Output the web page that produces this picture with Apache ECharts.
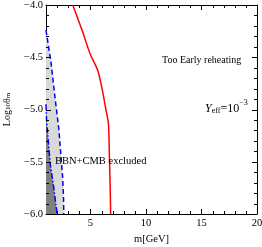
<!DOCTYPE html>
<html><head><meta charset="utf-8">
<script src="https://cdn.jsdelivr.net/npm/echarts@6/dist/echarts.min.js"></script>
<style>html,body{margin:0;padding:0;background:#fff}#c{width:262px;height:247px}</style>
</head><body><div id="c"></div>
<script>
// Red curve (m [GeV], log10 theta_m)
const redM   = [3.41, 4.36, 4.97, 5.66, 6.02, 6.41, 6.62, 6.71, 6.78, 6.82];
const redLog = [-4.0, -4.275, -4.467, -4.626, -4.786, -5.009, -5.133, -5.45, -5.75, -6.0];
// Right blue dashed boundary
const dashRM   = [1.0, 1.45, 1.84, 2.15, 2.35, 2.5, 2.58, 2.6];
const dashRLog = [-4.24, -4.55, -4.91, -5.18, -5.45, -5.65, -5.85, -6.0];
// Left blue dash-dot boundary
const dashLM   = [1.0, 1.05, 1.2, 1.39, 1.7, 2.0];
const dashLLog = [-4.95, -5.1, -5.3, -5.53, -5.75, -6.0];
// Ticks
const xMajorTicks = [5, 10, 15, 20];
const xMinorTicks = [2, 3, 4, 6, 7, 8, 9, 11, 12, 13, 14, 16, 17, 18, 19];
const yMajorTicks = [-6.0, -5.5, -5.0, -4.5, -4.0];
const yMinorTicks = [-5.9, -5.8, -5.7, -5.6, -5.4, -5.3, -5.2, -5.1, -4.9, -4.8, -4.7, -4.6, -4.4, -4.3, -4.2, -4.1];
const yMin = -6, yMax = -4, yStep = 0.5;
const xMin = 1, xMax = 20;

const pair = (a, b) => a.map((v, i) => [v, b[i]]);
const redData = pair(redM, redLog);
const dashR = pair(dashRM, dashRLog);
const dashL = pair(dashLM, dashLLog);
const lightPoly = dashR.concat([[xMin, yMin]]);
const darkPoly = dashL.concat([[xMin, yMin]]);

const serif = 'Liberation Serif';
function polySeries(poly, color, z) {
  return {
    type: 'custom', xAxisIndex: 0, yAxisIndex: 0, z: z, clip: true, silent: true,
    data: poly,
    encode: {x: 0, y: 1},
    renderItem: function (params, api) {
      if (params.dataIndex !== 0) return null;
      const pts = poly.map(p => api.coord(p));
      return {type: 'polygon', shape: {points: pts}, style: {fill: color, stroke: null}};
    }
  };
}
// Tick marks on all four frame sides, positioned through the axis scales
const tickItems = []
  .concat(xMajorTicks.map(v => ({x: v, y: yMin, dir: 0, len: 5})))
  .concat(xMinorTicks.map(v => ({x: v, y: yMin, dir: 0, len: 3})))
  .concat(yMajorTicks.map(v => ({x: xMin, y: v, dir: 1, len: 5})))
  .concat(yMinorTicks.map(v => ({x: xMin, y: v, dir: 1, len: 3})));
const tickSeries = {
  type: 'custom', xAxisIndex: 0, yAxisIndex: 0, z: 6, clip: false, silent: true,
  data: tickItems.map(t => [t.x, t.y]),
  encode: {x: 0, y: 1},
  renderItem: function (params, api) {
    const t = tickItems[params.dataIndex];
    const st = {stroke: '#000', lineWidth: 1, fill: null};
    if (t.dir === 0) {
      const b = api.coord([t.x, yMin]), tp = api.coord([t.x, yMax]);
      const x = Math.round(b[0]) + 0.5;
      return {type: 'group', children: [
        {type: 'line', shape: {x1: x, y1: b[1], x2: x, y2: b[1] - t.len}, style: st},
        {type: 'line', shape: {x1: x, y1: tp[1], x2: x, y2: tp[1] + t.len}, style: st}
      ]};
    } else {
      const l = api.coord([xMin, t.y]), r = api.coord([xMax, t.y]);
      const y = Math.round(l[1]) + 0.5;
      return {type: 'group', children: [
        {type: 'line', shape: {x1: l[0], y1: y, x2: l[0] + t.len, y2: y}, style: st},
        {type: 'line', shape: {x1: r[0], y1: y, x2: r[0] - t.len, y2: y}, style: st}
      ]};
    }
  }
};
const axLine = {show: true, onZero: false, lineStyle: {color: '#000', width: 1}};
const chart = echarts.init(document.getElementById('c'), null, {renderer: 'canvas'});
chart.setOption({
  animation: false,
  backgroundColor: '#fff',
  grid: {left: 46, top: 5, right: 5, bottom: 33, containLabel: false, outerBoundsMode: 'none'},
  xAxis: [
    {type: 'value', min: xMin, max: xMax, position: 'bottom', axisLine: axLine,
     axisTick: {show: false},
     axisLabel: {customValues: xMajorTicks, fontFamily: serif, fontSize: 10.5, color: '#000', margin: 4},
     splitLine: {show: false},
     name: 'm[GeV]', nameLocation: 'middle', nameGap: 20,
     nameTextStyle: {fontFamily: serif, fontSize: 10.5, color: '#000'}},
    {type: 'value', min: xMin, max: xMax, position: 'top', axisLine: axLine,
     axisTick: {show: false}, axisLabel: {show: false}, splitLine: {show: false}}
  ],
  yAxis: [
    {type: 'value', min: yMin, max: yMax, interval: yStep, position: 'left', axisLine: axLine,
     axisTick: {show: false},
     axisLabel: {fontFamily: serif, fontSize: 10.5, color: '#000', margin: 3,
                 formatter: v => v.toFixed(1).replace('-', '\u2212')},
     splitLine: {show: false},
     name: '{a|Log}{s|10}{a|\u03b8}{s|m}', nameLocation: 'middle', nameGap: 34, nameRotate: 90,
     nameTextStyle: {fontFamily: serif, fontSize: 10, color: '#000',
       rich: {a: {fontFamily: serif, fontSize: 10, color: '#000', verticalAlign: 'bottom', lineHeight: 14},
              s: {fontFamily: serif, fontSize: 7, color: '#000', verticalAlign: 'bottom', lineHeight: 10}}}},
    {type: 'value', min: yMin, max: yMax, interval: yStep, position: 'right', axisLine: axLine,
     axisTick: {show: false}, axisLabel: {show: false}, splitLine: {show: false}}
  ],
  series: [
    polySeries(lightPoly, '#d9d9d9', 1),
    polySeries(darkPoly, '#808080', 2),
    {type: 'line', xAxisIndex: 0, yAxisIndex: 0, data: dashR, showSymbol: false, z: 3,
     lineStyle: {color: '#0000ff', width: 1.5, type: [5, 3]}},
    {type: 'line', xAxisIndex: 0, yAxisIndex: 0, data: dashL, showSymbol: false, z: 3,
     lineStyle: {color: '#0000ff', width: 1.5, type: [6, 2, 1.5, 2]}},
    {type: 'line', xAxisIndex: 0, yAxisIndex: 0, data: redData, showSymbol: false, z: 4, smooth: 0.3,
     lineStyle: {color: '#ff0000', width: 1.5}},
    tickSeries
  ],
  graphic: [
    {type: 'text', left: 162, top: 55, z: 10,
     style: {text: 'Too Early reheating', fontFamily: serif, fontSize: 10, fill: '#000'}},
    {type: 'text', left: 55, top: 156, z: 10,
     style: {text: 'BBN+CMB excluded', fontFamily: serif, fontSize: 10.5, fill: '#000'}},
    {type: 'text', left: 205, top: 99, z: 10,
     style: {text: '{i|Y}{s|eff}{n|=10}{p|\u22123}', fill: '#000',
       rich: {i: {fontFamily: serif, fontStyle: 'italic', fontSize: 12, fill: '#000', verticalAlign: 'bottom', lineHeight: 16},
              s: {fontFamily: serif, fontSize: 8, fill: '#000', verticalAlign: 'bottom', lineHeight: 12},
              n: {fontFamily: serif, fontSize: 12, fill: '#000', verticalAlign: 'bottom', lineHeight: 16},
              p: {fontFamily: serif, fontSize: 8, fill: '#000', verticalAlign: 'top', lineHeight: 12}}}}
  ]
});
</script></body></html>
